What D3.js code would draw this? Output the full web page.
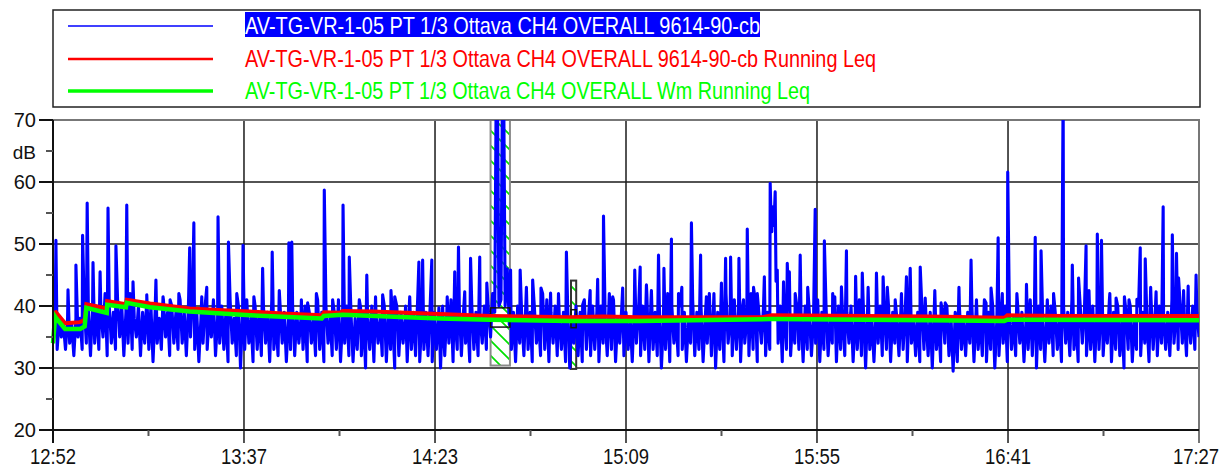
<!DOCTYPE html>
<html>
<head>
<meta charset="utf-8">
<script src="https://cdnjs.cloudflare.com/ajax/libs/d3/7.8.5/d3.min.js"></script>
<style>
  body { margin: 0; background: #fff; }
  svg { display: block; font-family: Arial, "Liberation Sans", sans-serif; }
</style>
</head>
<body>
<svg id="chart" width="1221" height="468"></svg>
<script>
// asse tempo in minuti dalle 12:52
var tickMinutes = [0, 45.83, 91.67, 137.5, 183.33, 229.17, 275];
var tickLabels = ["12:52", "13:37", "14:23", "15:09", "15:55", "16:41", "17:27"];
var yTicks = [20, 30, 40, 50, 60, 70];
var yMinor = [25, 35, 45, 55, 65];
var yUnitLabel = "dB";

var legendLabels = [
  "AV-TG-VR-1-05 PT 1/3 Ottava CH4 OVERALL 9614-90-cb",
  "AV-TG-VR-1-05 PT 1/3 Ottava CH4 OVERALL 9614-90-cb Running Leq",
  "AV-TG-VR-1-05 PT 1/3 Ottava CH4 OVERALL Wm Running Leq"
];
var legendColors = ["#0000ff", "#ff0000", "#00ff00"];

// livello istantaneo, un valore ogni 0.5 min (righe da 10 min)
var blueStep = 0.5;
var blueBase = [
  34,37,33,38,35,37,33,38,34,37,32,38,35,38,33,40,34,39,32,40,
  34,40,33,39,35,42,32,40,34,39,33,41,35,40,32,39,34,42,33,38,
  35,40,32,39,34,41,33,40,31,39,34,38,33,41,35,39,32,40,34,39,
  33,41,34,39,32,40,35,42,33,39,31,38,34,40,33,39,35,41,32,38,
  34,40,33,39,31,41,34,38,32,40,30,39,33,41,34,38,31,40,33,39,
  32,40,34,39,31,41,33,38,32,40,34,39,31,38,33,40,32,39,34,38,
  33,40,31,39,34,38,32,41,33,39,31,40,34,38,32,39,33,41,31,38,
  34,40,32,39,31,38,33,41,32,39,30,38,33,40,31,39,34,38,32,40,
  31,39,33,38,30,40,32,39,34,38,31,40,33,39,32,41,31,38,33,39,
  32,40,31,39,33,38,30,40,32,39,34,41,31,38,33,40,32,39,34,38,
  31,40,33,39,32,38,34,40,33,39,35,42,39,90,40,41,90,40,46,37,
  33,39,31,40,34,38,32,41,33,39,31,40,34,38,32,42,33,41,31,39,
  34,40,32,38,33,39,31,40,30,38,34,40,32,39,31,41,33,38,32,40,
  33,39,31,40,34,38,32,42,33,41,31,38,34,40,32,39,33,38,31,40,
  34,39,32,40,33,42,31,41,33,39,32,40,30,38,33,42,31,40,34,38,
  32,40,33,39,31,38,34,41,32,39,33,40,31,38,34,42,32,40,30,39,
  33,40,31,42,34,38,32,41,33,39,31,40,34,38,32,42,33,41,31,38,
  34,40,32,39,33,52,53,44,34,40,31,39,33,41,32,38,34,40,33,39,
  31,40,33,39,32,38,34,41,31,39,33,40,32,38,34,39,31,40,33,38,
  32,39,34,40,31,38,33,41,32,39,30,40,33,38,31,39,34,40,32,39,
  33,40,31,39,34,38,32,40,33,39,31,41,34,38,32,39,31,40,33,38,
  32,39,30,40,33,38,31,39,34,40,32,38,29.5,39,31,40,33,38,32,39,
  34,40,31,39,33,38,32,41,31,39,33,40,30,38,32,39,34,40,31,39,
  33,38,32,40,34,39,31,38,33,41,32,39,30,40,33,38,31,39,34,40,
  32,39,33,38,31,40,34,39,32,41,33,38,31,40,34,39,32,38,33,40,
  31,39,33,40,32,38,34,41,31,39,33,40,32,38,30,39,33,40,31,38,
  33,40,32,39,34,38,31,41,33,39,32,40,34,38,33,39,32,41,34,39,
  33,40,34,38,32,39,34,40,33,39,35
];

// picchi principali
var spikeTimes = [0.7,3.6,5.5,7.1,8.2,9.6,11.3,13.2,15.1,17.7,19.2,22.5,24.7,26.4,32.8,33.8,35.7,36.9,39.6,42.1,
  45.6,48.2,50.3,52.6,56.6,57.3,65.1,69.6,71.1,73.8,75.3,77.4,79.1,87.8,88.7,90.9,92.6,94.6,96.4,97.3,
  98.8,100.2,102.4,104.1,109.8,112.1,115.1,117.1,119.4,123.2,127.1,130.7,132.1,136.7,139.6,140.9,142.4,145.3,146.6,148.4,
  153.2,155.4,160.4,161.4,162.6,164.6,166.6,170.7,172.1,172.35,172.6,173.3,173.8,175.3,176.2,176.7,179.3,182.9,185.1,189.2,
  190.4,192.6,194.2,197.6,199.2,204.8,205.7,208.1,209.3,214.1,220.3,225.1,226.8,229.1,235.7,237.1,242.4,244.6,246.1,247.9,
  250.6,251.6,255.1,260.1,260.9,262.1,264.7,266.4,268.6,269.6,270.1,272.4,274.3];
var spikeValues = [50.6,42.6,46.6,51.4,56.6,47,45.5,55.8,49.7,56.3,43.9,41.8,44.2,41.5,49.4,53.4,41.5,43,54.4,50.3,
  49.8,41.5,46.1,48.7,50.2,50.3,58.7,56.3,47.9,39.8,45,41.5,41.8,47.1,47.4,47.4,39.7,41.5,45.5,49.5,
  42.3,47.7,47.9,43.7,45.8,45.8,44.2,42.9,42.1,48.7,40.2,44.3,54.5,42.9,45.8,46.3,43.4,48.2,46.1,50.8,
  53.4,48.2,43.7,47.7,47.9,47.7,52.4,44.7,59.8,53,56,58.4,45.8,43.9,46.9,45.5,48.2,55.6,50.5,43.1,
  48.9,44.8,45.3,45.3,44.7,44.7,46.1,46.3,41.3,40.5,47.4,42.9,51,61.6,51.1,48.9,75,46.6,44.5,49.7,
  51.6,50.6,41.3,41.1,49.4,47.6,42.3,56,51.5,48.5,44.5,43.2,45];

// picchi minori
var smallPeakTimes = [28.1,30.2,44.1,54.3,59.6,61.1,63.2,67.1,81.1,82.0,84.6,85.6,113.6,121.3,128.9,134.3,143.6,150.1,150.9,156.8,
  158.6,165.7,168.1,169.0,178.1,181.1,187.1,187.6,195.6,200.2,202.1,203.6,211.6,213.1,217.4,221.6,223.9,227.8,231.3,233.6,
  238.6,240.1,248.6,253.6,257.1,258.2,263.4,271.3];
var smallPeakValues = [41,42,42,42.5,41,40.5,42,41,42.5,41.5,40,41.5,43,42,42.5,41.5,42.5,42,43,41.5,
  42,41,43,42,42,43,42,41.5,43,43,41,42,42.5,40.5,43,41,40.5,42,42,43.5,
  41,42,42.5,42,41.5,41,43,42.5];

// Running Leq
var redTimes = [0,0.7,2.9,6.5,7.6,8.0,12.9,13.0,17.5,17.7,23.3,32.8,40.8,47.2,55.1,64.5,65.0,68.8,69.5,76.7,92.8,104.8,124,131.9,140.7,170.2,172.5,210.3,228.3,229.0,242.2,275];
var redValues = [38.8,39.0,37.2,37.4,37.8,40.3,39.6,40.8,40.3,41.0,40.4,39.6,39.3,39.1,38.8,38.5,39.0,38.9,39.2,39.1,38.7,38.4,38.2,38.3,38.2,38.2,38.5,38.3,38.1,38.5,38.4,38.4];
var greenTimes = [0,0.5,0.8,2.9,6.5,7.6,8.0,12.9,13.0,17.5,17.7,23.3,32.8,47.2,64.5,65.0,69.5,92.8,104.8,124,140.7,172.5,210.3,228.3,229.0,275];
var greenValues = [34.0,38.3,38.0,36.3,36.3,36.7,39.7,38.9,40.2,39.8,40.5,39.8,39.1,38.5,38.0,38.4,38.6,38.0,37.8,37.6,37.6,37.9,37.7,37.6,37.8,37.7];

// intervalli marcati
var eventStart = [105.0, 124.3];
var eventEnd = [109.65, 125.55];
var eventTop = [70, 44.1];
var eventBottom = [30.4, 29.85];
var leqBoxTop = [39.7, 39.4];
var leqBoxBottom = [36.6, 36.5];
var eventStroke = ["#8a8a8a", "#333333"];

(function () {
  var svg = d3.select("#chart");
  var pL = 53, pR = 1199, pT = 120, pB = 430;

  var x = d3.scaleLinear().domain([0, 275]).range([pL, pR]);
  var y = d3.scaleLinear().domain([20, 70]).range([pB, pT]);

  var defs = svg.append("defs");
  defs.append("clipPath").attr("id", "plotclip")
    .append("rect").attr("x", pL).attr("y", pT).attr("width", pR - pL).attr("height", pB - pT);
  var pat = defs.append("pattern").attr("id", "hatch").attr("patternUnits", "userSpaceOnUse")
    .attr("width", 15).attr("height", 15);
  pat.append("rect").attr("width", 15).attr("height", 15).attr("fill", "#fff");
  pat.append("path").attr("d", "M-2,-2L17,17M-2,13L2,17M13,-2L17,2")
    .attr("stroke", "#00e000").attr("stroke-width", 1.7);

  // legenda
  var leg = svg.append("g");
  leg.append("rect").attr("x", 53).attr("y", 10).attr("width", 1147).attr("height", 97)
    .attr("fill", "none").attr("stroke", "#222").attr("stroke-width", 1.5);
  var legY = [26, 59, 91];
  var legW = [1.5, 2.5, 3.5];
  var legTextLen = [515, 631, 565];
  leg.append("rect").attr("x", 245).attr("y", 12).attr("width", 515).attr("height", 25).attr("fill", "#0000ff");
  legendLabels.forEach(function (lab, i) {
    leg.append("line").attr("x1", 68).attr("x2", 213).attr("y1", legY[i]).attr("y2", legY[i])
      .attr("stroke", legendColors[i]).attr("stroke-width", legW[i]);
    leg.append("text").attr("x", 245).attr("y", legY[i] + 8)
      .attr("font-size", 24)
      .attr("textLength", legTextLen[i]).attr("lengthAdjust", "spacingAndGlyphs")
      .attr("fill", i == 0 ? "#fff" : legendColors[i])
      .text(lab);
  });

  // griglia
  var grid = svg.append("g").attr("stroke", "#1a1a1a").attr("stroke-width", 1.5);
  [30, 40, 50, 60].forEach(function (v) {
    grid.append("line").attr("x1", pL).attr("x2", pR).attr("y1", y(v)).attr("y2", y(v));
  });
  tickMinutes.forEach(function (t, i) {
    if (i == 0 || i == tickMinutes.length - 1) return;
    grid.append("line").attr("x1", x(t)).attr("x2", x(t)).attr("y1", pT).attr("y2", pB + 13);
  });

  // intervalli tratteggiati
  eventStart.forEach(function (s, i) {
    svg.append("rect").attr("clip-path", "url(#plotclip)")
      .attr("x", x(s)).attr("y", y(eventTop[i]))
      .attr("width", x(eventEnd[i]) - x(s)).attr("height", y(eventBottom[i]) - y(eventTop[i]))
      .attr("fill", "url(#hatch)").attr("stroke", eventStroke[i]).attr("stroke-width", 2);
  });

  // cornice
  svg.append("path").attr("d", "M" + pL + "," + pT + "H" + pR + "V" + (pB + 13))
    .attr("fill", "none").attr("stroke", "#777").attr("stroke-width", 2);

  // serie blu
  var bluePts = blueBase.map(function (v, i) { return { t: i * blueStep, v: v }; });
  spikeTimes.forEach(function (t, i) { bluePts.push({ t: t, v: spikeValues[i] }); });
  smallPeakTimes.forEach(function (t, i) { bluePts.push({ t: t, v: smallPeakValues[i] }); });
  bluePts.sort(function (a, b) { return a.t - b.t; });

  var line = d3.line().x(function (d) { return x(d.t); }).y(function (d) { return y(d.v); });

  svg.append("path").datum(bluePts).attr("clip-path", "url(#plotclip)")
    .attr("d", line).attr("fill", "none").attr("stroke", "#0000ff")
    .attr("stroke-width", 3.1).attr("stroke-linejoin", "round");

  // riquadri Leq
  eventStart.forEach(function (s, i) {
    svg.append("rect").attr("x", x(s)).attr("y", y(leqBoxTop[i]))
      .attr("width", x(eventEnd[i]) - x(s)).attr("height", y(leqBoxBottom[i]) - y(leqBoxTop[i]))
      .attr("fill", "none").attr("stroke", "#111").attr("stroke-width", 1.5);
  });

  var redPts = redTimes.map(function (t, i) { return { t: t, v: redValues[i] }; });
  var greenPts = greenTimes.map(function (t, i) { return { t: t, v: greenValues[i] }; });
  svg.append("path").datum(redPts).attr("d", line).attr("fill", "none")
    .attr("stroke", "#ff0000").attr("stroke-width", 4);
  svg.append("path").datum(greenPts).attr("d", line).attr("fill", "none")
    .attr("stroke", "#00ff00").attr("stroke-width", 4.5);

  // assi
  var ax = svg.append("g").attr("stroke", "#111").attr("stroke-width", 2);
  ax.append("line").attr("x1", pL).attr("x2", pL).attr("y1", pT).attr("y2", pB + 13);
  ax.append("line").attr("x1", pL).attr("x2", pR).attr("y1", pB).attr("y2", pB);
  yTicks.forEach(function (v) {
    ax.append("line").attr("x1", pL - 14).attr("x2", pL).attr("y1", y(v)).attr("y2", y(v));
  });
  yMinor.forEach(function (v) {
    ax.append("line").attr("x1", pL - 7).attr("x2", pL).attr("y1", y(v)).attr("y2", y(v)).attr("stroke", "#555");
  });
  for (var i = 0; i < tickMinutes.length - 1; i++) {
    var mid = (tickMinutes[i] + tickMinutes[i + 1]) / 2;
    ax.append("line").attr("x1", x(mid)).attr("x2", x(mid)).attr("y1", pB).attr("y2", pB + 6).attr("stroke", "#555");
  }

  var lab = svg.append("g").attr("fill", "#111");
  yTicks.forEach(function (v) {
    lab.append("text").attr("x", 36).attr("y", y(v) + 7).attr("text-anchor", "end")
      .attr("font-size", 20).text(v);
  });
  lab.append("text").attr("x", 36).attr("y", y(65) + 8).attr("text-anchor", "end")
    .attr("font-size", 19).text(yUnitLabel);
  // etichette orari, compresse in larghezza come nell'originale
  tickMinutes.forEach(function (t, i) {
    var cx = Math.min(x(t), 1221 - 25);
    lab.append("text")
      .attr("transform", "translate(" + cx + ",464) scale(0.84,1)")
      .attr("text-anchor", "middle").attr("font-size", 22)
      .text(tickLabels[i]);
  });
})();
</script>
</body>
</html>
